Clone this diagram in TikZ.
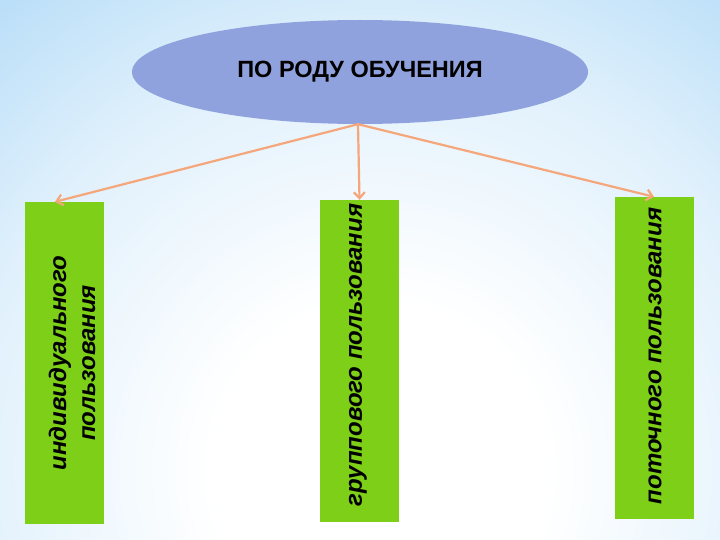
\documentclass[tikz,border=0pt]{standalone}
\usepackage{fontspec}
\setmainfont{Liberation Sans}
\usetikzlibrary{shapes.geometric,arrows.meta}
\definecolor{bgblue}{RGB}{166,213,246}
\definecolor{ellfill}{RGB}{143,162,222}
\definecolor{boxgreen}{RGB}{126,207,24}
\definecolor{arrcol}{RGB}{245,166,122}
\pgfdeclareradialshading{bgshade}{\pgfpoint{0bp}{0bp}}{color(0bp)=(white); color(6bp)=(white); color(15bp)=(bgblue!35!white); color(25bp)=(bgblue); color(50bp)=(bgblue)}
\begin{document}
\begin{tikzpicture}[x=1pt,y=-1pt,
  catbox/.style={draw=none,fill=boxgreen,minimum width=79pt,minimum height=322pt,inner sep=0pt},
  cattext/.style={rotate=90,font=\fontsize{24}{29}\selectfont\bfseries\itshape,align=center,inner sep=0pt},
  arr/.style={draw=arrcol,line width=2.2pt,-{Straight Barb[length=6pt,width=11pt,line width=2.2pt]}}]
\useasboundingbox (0,0) rectangle (720,540);
\begin{scope}
\clip (0,0) rectangle (720,540);
\fill[bgblue] (0,0) rectangle (720,540);
\shade[shading=bgshade] (380,470) circle (700);
\end{scope}
\node[ellipse,fill=ellfill,minimum width=456pt,minimum height=104pt,inner sep=0pt] (top) at (360,72) {};
\node[font=\fontsize{23.5}{28}\selectfont\bfseries] (title) at (360,72) {ПО РОДУ ОБУЧЕНИЯ};
\node[catbox] (lbox) at (64.5,363) {};
\node[catbox] (mbox) at (359.5,361) {};
\node[catbox] (rbox) at (654,358) {};
\node[cattext] (ltext) at (72,363) {индивидуального\\пользования};
\node[cattext] (mtext) at (358,355) {группового пользования};
\node[cattext] (rtext) at (655,356) {поточного пользования};
\draw[arr] ([xshift=-2pt]top.south) -- ([xshift=-9.5pt]lbox.north);
\draw[arr] ([xshift=-2pt]top.south) -- (mbox.north);
\draw[arr] ([xshift=-2pt]top.south) -- (rbox.north);
\end{tikzpicture}
\end{document}
